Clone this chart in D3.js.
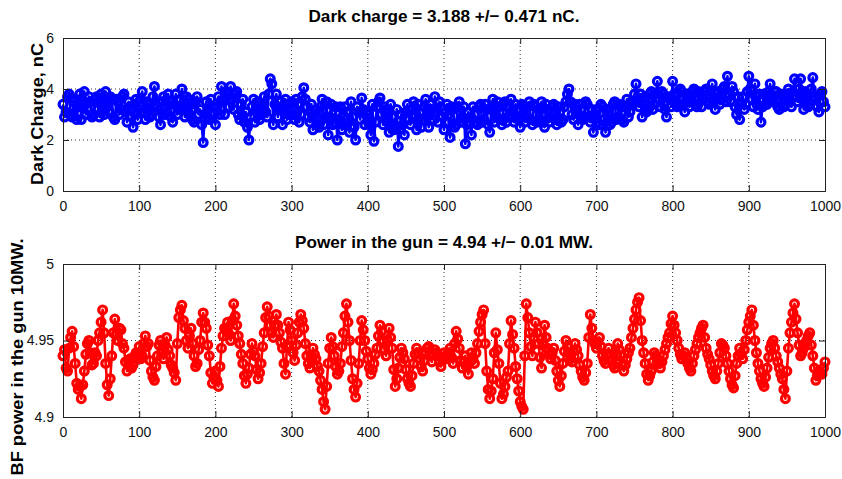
<!DOCTYPE html>
<html>
<head>
<meta charset="utf-8">
<script src="https://cdn.jsdelivr.net/npm/d3@7"></script>
<style>
    body { margin: 0; background: #fff; }
    svg { display: block; font-family: "Liberation Sans", Arial, sans-serif; }
</style>
</head>
<body>
<svg id="chart"></svg>
<script>
// shot index runs 0..1000, read every 2nd shot off the picture
const shotStep = 2;
const xTicks = [0, 100, 200, 300, 400, 500, 600, 700, 800, 900, 1000];
const chargeTicks = [0, 2, 4, 6];
const powerTicks = [4.9, 4.95, 5];

const chargeTitle = "Dark charge = 3.188 +/\u2212 0.471 nC.";
const powerTitle = "Power in the gun = 4.94 +/\u2212 0.01 MW.";
const chargeLabel = "Dark Charge, nC";
const powerLabel = "BF power in the gun 10MW.";

// dark charge, nC  (one row = 100 shots)
const darkCharge = [
    3.4,2.9, 3.1,3.7, 3.8,3.0, 2.9,3.5, 3.6,2.8, 3.3,3.8, 2.8,3.4, 3.9,3.0, 3.2,3.7, 3.5,2.9, 3.0,3.6, 3.7,3.2, 2.9,3.8, 3.4,3.0, 3.9,3.3, 3.1,3.7, 3.6,2.9, 2.8,3.6, 3.5,3.0, 3.2,3.7, 3.8,3.1, 2.7,3.5, 3.3,2.9, 2.5,3.4, 3.6,2.8,
    3.2,3.6, 3.9,3.1, 2.8,3.5, 3.4,2.9, 3.0,3.7, 4.1,3.4, 3.3,2.9, 2.6,3.5, 3.7,3.0, 3.1,3.8, 3.5,2.9, 2.7,3.4, 3.8,3.0, 3.2,3.6, 4.0,3.3, 2.9,3.7, 3.6,3.0, 3.4,2.8, 2.7,3.5, 3.7,3.0, 3.2,2.6, 1.9,3.0, 3.5,2.9, 2.8,3.6, 3.3,3.0,
    2.6,3.3, 3.7,3.0, 4.1,3.5, 3.0,3.9, 3.8,3.3, 4.1,3.6, 3.2,3.8, 3.9,3.0, 2.8,3.4, 3.6,2.7, 3.1,2.5, 2.0,2.9, 3.3,3.6, 2.7,3.2, 3.5,2.8, 3.0,3.4, 3.7,3.1, 2.9,3.8, 4.4,4.2, 2.6,3.4, 3.8,2.9, 3.2,3.5, 2.6,3.3, 3.6,2.8, 3.0,3.4,
    3.5,3.0, 2.8,3.6, 3.4,2.7, 3.0,3.7, 4.05,3.6, 3.3,2.9, 2.7,3.4, 2.4,3.0, 3.2,2.6, 2.5,3.3, 3.6,2.6, 2.9,3.5, 2.2,2.9, 3.4,2.6, 2.7,3.3, 2.0,2.8, 3.3,2.4, 2.6,3.3, 3.1,2.7, 2.3,3.5, 2.9,2.5, 2.0,3.3, 3.1,2.8, 3.65,3.2, 2.6,3.1,
    3.0,2.6, 2.2,3.4, 1.95,2.7, 3.3,3.5, 3.65,3.0, 2.6,3.3, 3.2,2.7, 2.3,3.4, 2.9,2.4, 2.5,3.2, 1.75,2.4, 3.0,2.6, 2.2,3.1, 3.4,2.8, 2.6,3.2, 3.5,2.9, 2.4,3.4, 3.1,2.5, 2.8,3.3, 3.6,2.9, 2.5,3.4, 3.2,2.8, 3.7,3.1, 2.7,3.5, 3.3,2.9,
    2.4,3.1, 3.4,2.7, 2.1,3.3, 3.2,2.5, 2.6,3.3, 3.5,2.7, 2.9,3.3, 1.85,2.6, 3.1,2.7, 2.2,3.3, 3.0,2.7, 2.6,3.3, 3.4,2.7, 2.8,3.4, 3.2,2.6, 2.3,3.2, 3.6,2.7, 2.9,3.5, 3.3,2.8, 2.6,3.4, 3.5,2.7, 2.9,3.3, 3.6,2.9, 2.7,3.4, 3.2,2.8,
    2.5,3.4, 3.3,2.7, 2.9,3.3, 3.5,2.8, 2.6,3.4, 3.3,2.7, 2.8,3.2, 3.5,2.7, 2.5,3.4, 3.2,2.7, 2.9,3.3, 3.4,2.8, 2.6,3.3, 3.1,2.7, 2.8,3.3, 3.5,3.8, 4.0,3.5, 3.0,2.8, 3.4,3.1, 2.6,3.4, 3.2,2.8, 2.9,3.5, 3.4,2.9, 2.7,3.2, 2.3,3.0,
    3.2,2.7, 2.6,3.4, 3.3,2.8, 2.3,3.2, 3.1,2.6, 2.7,3.4, 3.5,2.8, 2.9,3.4, 3.3,2.8, 2.7,3.3, 3.6,2.9, 3.1,3.5, 3.4,3.8, 4.2,3.5, 3.3,3.8, 2.9,3.4, 3.7,3.1, 3.2,3.8, 3.9,3.2, 3.4,3.8, 4.3,3.6, 3.3,3.9, 3.8,3.2, 2.9,3.7, 3.6,3.3,
    4.3,3.8, 3.7,3.3, 3.4,4.0, 3.9,3.4, 3.1,3.8, 3.7,3.3, 3.5,3.9, 4.0,3.4, 3.3,3.9, 3.8,3.3, 3.6,3.9, 4.0,3.5, 3.4,3.9, 4.2,3.5, 3.2,3.8, 3.9,3.4, 3.6,4.0, 4.1,3.5, 4.5,3.8, 3.5,4.1, 3.9,3.3, 3.0,3.7, 2.8,3.4, 3.7,3.2, 3.4,3.9,
    4.5,4.0, 3.6,3.3, 4.2,3.7, 3.2,3.8, 2.7,3.3, 3.8,3.4, 3.4,3.9, 4.2,3.6, 3.5,3.9, 3.9,3.3, 3.2,3.8, 3.7,3.3, 3.4,3.8, 4.0,3.5, 3.3,3.9, 4.4,3.7, 3.5,4.0, 4.4,3.6, 3.2,3.9, 3.8,3.3, 3.4,4.0, 4.45,3.7, 3.6,3.3, 3.1,3.8, 3.9,3.5,
    3.3
];

// RF power in the gun, MW  (one row = 100 shots)
const gunPower = [
    4.940,4.944, 4.932,4.930, 4.945,4.952, 4.956,4.946, 4.935,4.922, 4.918,4.920, 4.912,4.921, 4.930,4.941, 4.948,4.950, 4.942,4.934, 4.935,4.942, 4.940,4.950, 4.955,4.962, 4.970,4.955, 4.935,4.921, 4.914,4.925, 4.940,4.955, 4.964,4.954, 4.950,4.958, 4.957,4.948, 4.945,4.936, 4.930,4.937, 4.938,4.932, 4.934,4.940, 4.942,4.939,
    4.946,4.938, 4.940,4.948, 4.953,4.946, 4.948,4.937, 4.930,4.926, 4.924,4.933, 4.940,4.947, 4.950,4.942, 4.938,4.947, 4.952,4.944, 4.940,4.934, 4.932,4.929, 4.924,4.948, 4.965,4.970, 4.973,4.963, 4.958,4.950, 4.945,4.953, 4.958,4.948, 4.940,4.933, 4.935,4.944, 4.950,4.962, 4.968,4.962, 4.958,4.947, 4.940,4.929, 4.922,4.926,
    4.930,4.924, 4.920,4.933, 4.945,4.953, 4.958,4.957, 4.962,4.954, 4.950,4.963, 4.974,4.966, 4.960,4.953, 4.948,4.941, 4.935,4.927, 4.922,4.928, 4.932,4.941, 4.948,4.943, 4.940,4.931, 4.925,4.929, 4.935,4.946, 4.955,4.965, 4.972,4.966, 4.960,4.955, 4.952,4.960, 4.967,4.960, 4.955,4.949, 4.945,4.935, 4.928,4.947, 4.962,4.957,
    4.950,4.942, 4.937,4.947, 4.955,4.962, 4.967,4.963, 4.958,4.948, 4.940,4.935, 4.932,4.939, 4.945,4.941, 4.938,4.933, 4.930,4.924, 4.918,4.910, 4.905,4.920, 4.935,4.945, 4.952,4.946, 4.940,4.933, 4.928,4.930, 4.935,4.946, 4.955,4.966, 4.974,4.962, 4.950,4.937, 4.925,4.918, 4.913,4.922, 4.935,4.950, 4.963,4.957, 4.950,4.943,
    4.938,4.932, 4.928,4.931, 4.935,4.941, 4.945,4.953, 4.960,4.956, 4.950,4.944, 4.940,4.950, 4.958,4.952, 4.945,4.931, 4.920,4.925, 4.932,4.939, 4.945,4.942, 4.938,4.931, 4.925,4.922, 4.920,4.927, 4.935,4.941, 4.945,4.942, 4.938,4.933, 4.930,4.937, 4.942,4.945, 4.946,4.940, 4.936,4.941, 4.944,4.942, 4.940,4.936, 4.933,4.938,
    4.942,4.940, 4.938,4.942, 4.945,4.939, 4.935,4.948, 4.956,4.951, 4.945,4.937, 4.932,4.936, 4.940,4.933, 4.928,4.936, 4.942,4.938, 4.935,4.942, 4.948,4.956, 4.962,4.967, 4.970,4.948, 4.930,4.918, 4.912,4.917, 4.925,4.942, 4.955,4.944, 4.935,4.922, 4.912,4.915, 4.920,4.926, 4.930,4.948, 4.963,4.954, 4.945,4.933, 4.925,4.917,
    4.910,4.907, 4.905,4.940, 4.974,4.965, 4.955,4.946, 4.940,4.952, 4.962,4.955, 4.948,4.939, 4.932,4.947, 4.960,4.952, 4.945,4.941, 4.938,4.942, 4.945,4.937, 4.930,4.924, 4.920,4.927, 4.935,4.943, 4.950,4.946, 4.942,4.938, 4.936,4.943, 4.948,4.944, 4.940,4.934, 4.930,4.926, 4.924,4.929, 4.935,4.952, 4.967,4.958, 4.950,4.948,
    4.945,4.949, 4.952,4.946, 4.940,4.937, 4.935,4.941, 4.945,4.941, 4.938,4.934, 4.932,4.940, 4.948,4.944, 4.940,4.934, 4.930,4.934, 4.938,4.942, 4.945,4.952, 4.958,4.964, 4.970,4.975, 4.978,4.963, 4.950,4.942, 4.935,4.928, 4.924,4.927, 4.930,4.936, 4.942,4.940, 4.938,4.935, 4.932,4.936, 4.940,4.944, 4.948,4.952, 4.955,4.961,
    4.966,4.960, 4.955,4.950, 4.945,4.941, 4.938,4.940, 4.942,4.938, 4.935,4.932, 4.930,4.935, 4.940,4.944, 4.948,4.952, 4.955,4.958, 4.960,4.952, 4.945,4.941, 4.938,4.934, 4.930,4.927, 4.925,4.930, 4.935,4.942, 4.948,4.947, 4.945,4.940, 4.935,4.930, 4.925,4.921, 4.919,4.927, 4.935,4.940, 4.945,4.941, 4.938,4.944, 4.950,4.957,
    4.962,4.966, 4.970,4.960, 4.950,4.942, 4.935,4.930, 4.925,4.922, 4.920,4.926, 4.932,4.939, 4.945,4.948, 4.950,4.945, 4.940,4.936, 4.932,4.928, 4.925,4.918, 4.912,4.930, 4.945,4.955, 4.962,4.968, 4.974,4.964, 4.955,4.947, 4.940,4.942, 4.945,4.948, 4.950,4.953, 4.955,4.947, 4.940,4.932, 4.924,4.927, 4.930,4.929, 4.928,4.932,
    4.936
];

class ShotPanel {
    constructor(svg, box, yDomain, yTicks, colour) {
        this.svg = svg;
        this.box = box;
        this.yDomain = yDomain;
        this.yTicks = yTicks;
        this.colour = colour;
    }

    initialize() {
        const b = this.box;
        this.xScale = d3.scaleLinear().domain([0, 1000]).range([b.left, b.right]);
        this.yScale = d3.scaleLinear().domain(this.yDomain).range([b.bottom, b.top]);

        this.grid = this.svg.append("g");
        this.container = this.svg.append("g");
        this.frame = this.svg.append("g");
    }

    update(values, title, label, labelPos) {
        const b = this.box;
        const pts = values.map((v, i) => [i * shotStep, v]);

        // dotted grid
        this.grid.selectAll("line.gx")
            .data(xTicks.slice(1, -1))
            .join("line")
            .attr("class", "gx")
            .attr("x1", d => this.xScale(d)).attr("x2", d => this.xScale(d))
            .attr("y1", b.top).attr("y2", b.bottom);
        this.grid.selectAll("line.gy")
            .data(this.yTicks.slice(1, -1))
            .join("line")
            .attr("class", "gy")
            .attr("x1", b.left).attr("x2", b.right)
            .attr("y1", d => this.yScale(d)).attr("y2", d => this.yScale(d));
        this.grid.selectAll("line")
            .attr("stroke", "#333")
            .attr("stroke-width", 1)
            .attr("stroke-dasharray", "1,3");

        const line = d3.line()
            .x(d => this.xScale(d[0]))
            .y(d => this.yScale(d[1]));

        this.container.append("path")
            .datum(pts)
            .attr("d", line)
            .attr("fill", "none")
            .attr("stroke", this.colour)
            .attr("stroke-width", 2.6)
            .attr("stroke-linejoin", "round");

        this.container.selectAll("circle")
            .data(pts)
            .join("circle")
            .attr("cx", d => this.xScale(d[0]))
            .attr("cy", d => this.yScale(d[1]))
            .attr("r", 3.9)
            .attr("fill", "none")
            .attr("stroke", this.colour)
            .attr("stroke-width", 3.2);

        // axes, ticks pointing inwards like matlab
        const tk = 6;
        this.frame.append("g")
            .attr("transform", `translate(0, ${b.bottom})`)
            .call(d3.axisBottom(this.xScale).tickValues(xTicks).tickSize(-tk).tickPadding(tk + 4).tickFormat(d3.format("d")));
        this.frame.append("g")
            .attr("transform", `translate(0, ${b.top})`)
            .call(d3.axisTop(this.xScale).tickValues(xTicks).tickSize(-tk).tickFormat(""));
        this.frame.append("g")
            .attr("transform", `translate(${b.left}, 0)`)
            .call(d3.axisLeft(this.yScale).tickValues(this.yTicks).tickSize(-tk).tickPadding(tk + 3).tickFormat(d3.format("")));
        this.frame.append("g")
            .attr("transform", `translate(${b.right}, 0)`)
            .call(d3.axisRight(this.yScale).tickValues(this.yTicks).tickSize(-tk).tickFormat(""));

        this.frame.selectAll(".domain").attr("stroke", "#222");
        this.frame.selectAll(".tick line").attr("stroke", "#222");
        this.frame.selectAll(".tick text")
            .attr("fill", "#111")
            .style("font-family", "inherit")
            .style("font-size", "14px");

        this.svg.append("text")
            .attr("x", (b.left + b.right) / 2)
            .attr("y", b.top - 16)
            .attr("text-anchor", "middle")
            .attr("textLength", title.width)
            .attr("lengthAdjust", "spacingAndGlyphs")
            .style("font-weight", "bold")
            .style("font-size", "17px")
            .text(title.text);

        this.svg.append("text")
            .attr("transform", `translate(${labelPos.x}, ${labelPos.y}) rotate(-90)`)
            .attr("text-anchor", "middle")
            .attr("textLength", labelPos.width)
            .attr("lengthAdjust", "spacingAndGlyphs")
            .style("font-weight", "bold")
            .style("font-size", "16px")
            .text(label);
    }
}

const svg = d3.select("#chart").attr("width", 842).attr("height", 479);

const chargePanel = new ShotPanel(svg, { left: 63, right: 825, top: 38, bottom: 191 }, [0, 6], chargeTicks, "#0000ff");
chargePanel.initialize();
chargePanel.update(darkCharge, { text: chargeTitle, width: 271 }, chargeLabel, { x: 43, y: 114, width: 142 });

const powerPanel = new ShotPanel(svg, { left: 63, right: 825, top: 264, bottom: 417 }, [4.9, 5], powerTicks, "#ff0000");
powerPanel.initialize();
powerPanel.update(gunPower, { text: powerTitle, width: 298 }, powerLabel, { x: 23, y: 357, width: 237 });
</script>
</body>
</html>
